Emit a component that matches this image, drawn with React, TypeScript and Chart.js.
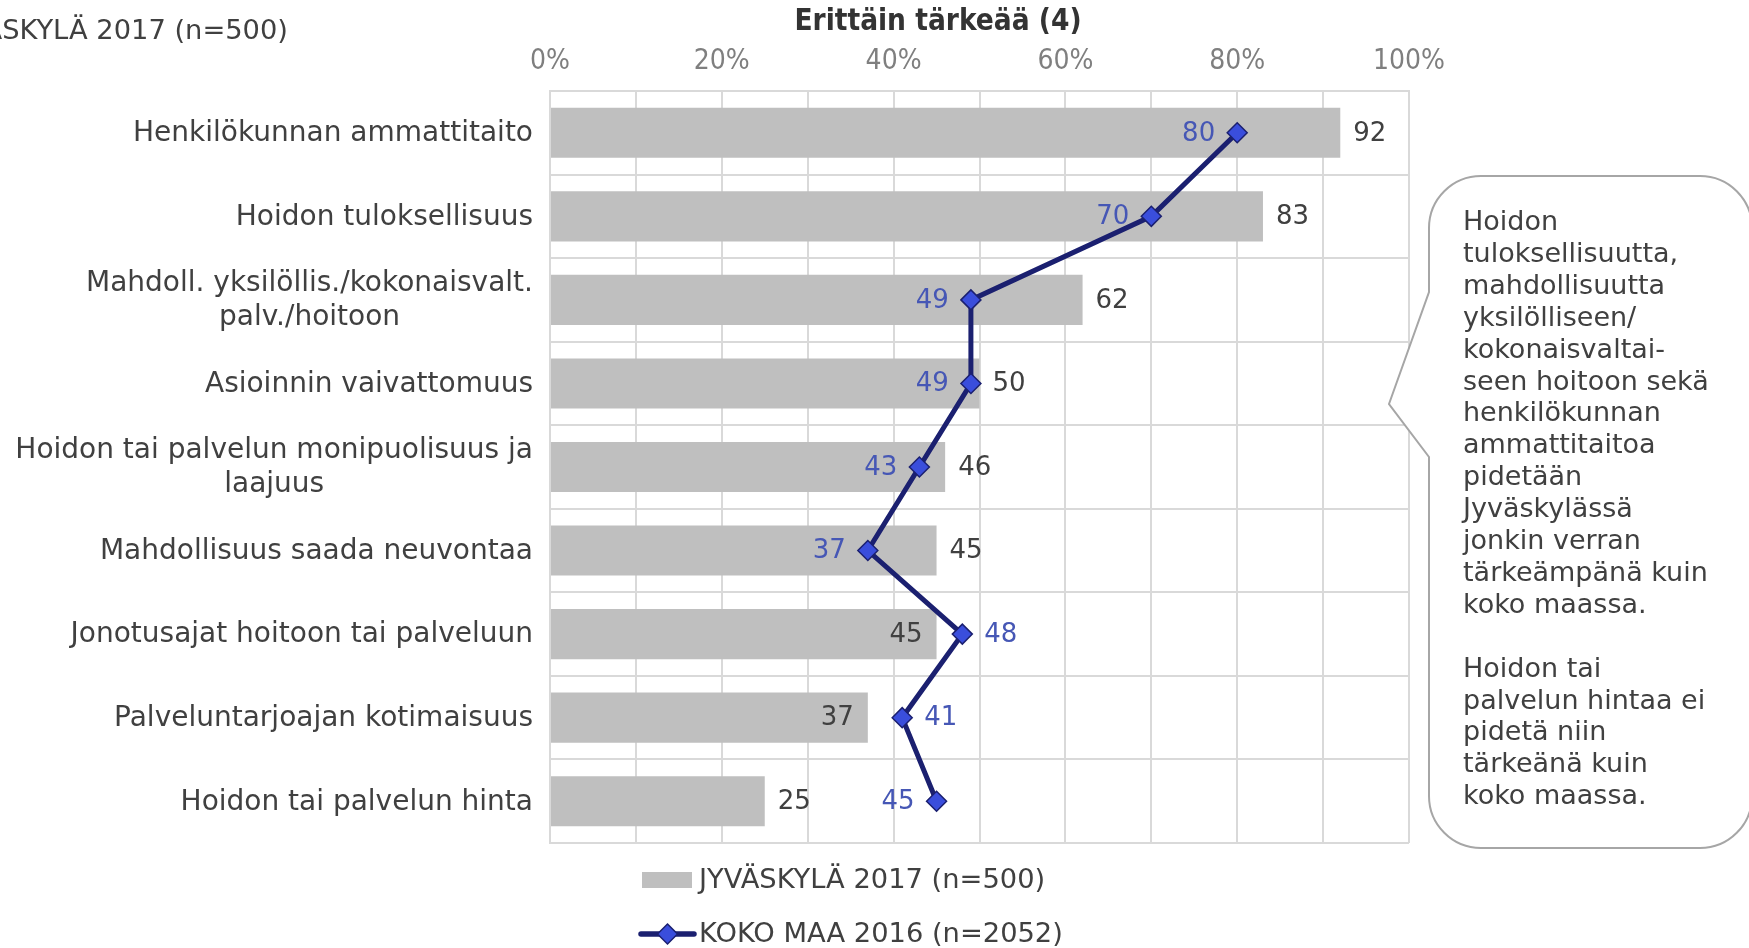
import React, { useEffect, useRef } from 'react';
import { Chart, registerables } from 'chart.js';

Chart.register(...registerables);

const categories: string[][] = [
  ['Henkilökunnan ammattitaito'],
  ['Hoidon tuloksellisuus'],
  ['Mahdoll. yksilöllis./kokonaisvalt.', 'palv./hoitoon'],
  ['Asioinnin vaivattomuus'],
  ['Hoidon tai palvelun monipuolisuus ja', 'laajuus'],
  ['Mahdollisuus saada neuvontaa'],
  ['Jonotusajat hoitoon tai palveluun'],
  ['Palveluntarjoajan kotimaisuus'],
  ['Hoidon tai palvelun hinta'],
];

const jyvaskyla2017 = [92, 83, 62, 50, 46, 45, 45, 37, 25];
const kokoMaa2016 = [80, 70, 49, 49, 43, 37, 48, 41, 45];

const barLabelPlacement = ['out', 'out', 'out', 'out', 'out', 'out', 'in', 'in', 'out'];
const lineLabelPlacement = ['left', 'left', 'left', 'left', 'left', 'left', 'right', 'right', 'left'];

const seriesNames = ['JYVÄSKYLÄ 2017 (n=500)', 'KOKO MAA 2016 (n=2052)'];
const axisTitle = 'Erittäin tärkeää (4)';
const calloutLines = [
  'Hoidon',
  'tuloksellisuutta,',
  'mahdollisuutta',
  'yksilölliseen/',
  'kokonaisvaltai-',
  'seen hoitoon sekä',
  'henkilökunnan',
  'ammattitaitoa',
  'pidetään',
  'Jyväskylässä',
  'jonkin verran',
  'tärkeämpänä kuin',
  'koko maassa.',
  '',
  'Hoidon tai',
  'palvelun hintaa ei',
  'pidetä niin',
  'tärkeänä kuin',
  'koko maassa.',
];

const FONT = "'DejaVu Sans', Verdana, sans-serif";
const COND = "'DejaVu Sans Condensed', 'DejaVu Sans', sans-serif";
const FS_LABEL = 28;
const FS_LEGEND = 27.3;
const FS_DATA = 26;
const FS_CALLOUT = 27;
const TEXT = '#404040';
const BAR = '#BFBFBF';
const GRID = '#D9D9D9';
const NAVY = '#1B2070';
const MARKER = '#3A4EDC';
const LINE_LABEL = '#4657B5';

const overlayPlugin = {
  id: 'overlay',
  afterDatasetsDraw(chart: any) {
    const ctx = chart.ctx;
    const lineMeta = chart.getDatasetMeta(0);
    const barMeta = chart.getDatasetMeta(1);
    ctx.save();
    ctx.font = `${FS_DATA}px ${FONT}`;
    ctx.textBaseline = 'middle';
    barMeta.data.forEach((el: any, i: number) => {
      const { x, y } = el.getProps(['x', 'y'], true);
      ctx.fillStyle = TEXT;
      if (barLabelPlacement[i] === 'in') {
        ctx.textAlign = 'right';
        ctx.fillText(String(jyvaskyla2017[i]), x - 14, y + 1);
      } else {
        ctx.textAlign = 'left';
        ctx.fillText(String(jyvaskyla2017[i]), x + 13, y + 1);
      }
    });
    lineMeta.data.forEach((el: any, i: number) => {
      const { x, y } = el.getProps(['x', 'y'], true);
      ctx.fillStyle = LINE_LABEL;
      if (lineLabelPlacement[i] === 'right') {
        ctx.textAlign = 'left';
        ctx.fillText(String(kokoMaa2016[i]), x + 22, y + 1);
      } else {
        ctx.textAlign = 'right';
        ctx.fillText(String(kokoMaa2016[i]), x - 22, y + 1);
      }
    });
    ctx.restore();
  },
  afterDraw(chart: any) {
    const ctx = chart.ctx;
    const yScale = chart.scales.y;
    ctx.save();
    // category labels
    ctx.font = `${FS_LABEL}px ${FONT}`;
    ctx.fillStyle = TEXT;
    ctx.textBaseline = 'middle';
    ctx.textAlign = 'center';
    const rightEdge = chart.chartArea.left - 17;
    categories.forEach((lines, i) => {
      const cy = yScale.getPixelForValue(i);
      const maxW = Math.max(...lines.map((l) => ctx.measureText(l).width));
      const cx = rightEdge - maxW / 2;
      const lh = 34;
      const start = cy - ((lines.length - 1) * lh) / 2;
      lines.forEach((l, j) => ctx.fillText(l, cx, start + j * lh + 1));
    });

    // axis title
    ctx.font = `bold 29.5px ${COND}`;
    ctx.fillStyle = '#333333';
    ctx.textAlign = 'center';
    ctx.fillText(axisTitle, 938, 22);

    // cut-off chart title at top-left
    ctx.font = `${FS_LEGEND}px ${FONT}`;
    ctx.fillStyle = TEXT;
    ctx.textAlign = 'right';
    ctx.fillText(seriesNames[0], 288, 32);

    // callout
    const L = 1429, T = 176, B = 848, R = 1752, r = 52;
    const P1 = 292, P2 = 457, tipX = 1389, tipY = 404;
    ctx.beginPath();
    ctx.moveTo(L + r, T);
    ctx.lineTo(R - r, T);
    ctx.arcTo(R, T, R, T + r, r);
    ctx.lineTo(R, B - r);
    ctx.arcTo(R, B, R - r, B, r);
    ctx.lineTo(L + r, B);
    ctx.arcTo(L, B, L, B - r, r);
    ctx.lineTo(L, P2);
    ctx.lineTo(tipX, tipY);
    ctx.lineTo(L, P1);
    ctx.lineTo(L, T + r);
    ctx.arcTo(L, T, L + r, T, r);
    ctx.closePath();
    ctx.fillStyle = '#FFFFFF';
    ctx.fill();
    ctx.strokeStyle = '#A6A6A6';
    ctx.lineWidth = 2;
    ctx.stroke();

    ctx.font = `${FS_CALLOUT}px ${FONT}`;
    ctx.fillStyle = TEXT;
    ctx.textAlign = 'left';
    calloutLines.forEach((l, i) => {
      ctx.fillText(l, 1463, 223 + i * 31.9);
    });

    // legend
    ctx.font = `${FS_LEGEND}px ${FONT}`;
    ctx.fillStyle = BAR;
    ctx.fillRect(642, 872, 50, 16);
    ctx.fillStyle = TEXT;
    ctx.fillText(seriesNames[0], 699, 881);

    ctx.strokeStyle = NAVY;
    ctx.lineWidth = 5.5;
    ctx.lineCap = 'round';
    ctx.beginPath();
    ctx.moveTo(641, 934);
    ctx.lineTo(694, 934);
    ctx.stroke();
    ctx.beginPath();
    const dx = 667.5, dy = 934, dr = 10;
    ctx.moveTo(dx, dy - dr);
    ctx.lineTo(dx + dr, dy);
    ctx.lineTo(dx, dy + dr);
    ctx.lineTo(dx - dr, dy);
    ctx.closePath();
    ctx.fillStyle = MARKER;
    ctx.fill();
    ctx.lineWidth = 1.5;
    ctx.stroke();
    ctx.fillStyle = TEXT;
    ctx.fillText(seriesNames[1], 699, 935);
    ctx.restore();
  },
};

export default function App() {
  const canvasRef = useRef<HTMLCanvasElement | null>(null);

  useEffect(() => {
    const canvas = canvasRef.current;
    if (!canvas) return;
    const chart = new Chart(canvas, {
      type: 'bar',
      data: {
        labels: categories,
        datasets: [
          {
            type: 'line',
            label: seriesNames[1],
            data: kokoMaa2016,
            indexAxis: 'y',
            order: 0,
            borderColor: NAVY,
            borderWidth: 5,
            pointStyle: 'rectRot',
            pointRadius: 10,
            pointBackgroundColor: MARKER,
            pointBorderColor: NAVY,
            pointBorderWidth: 1.5,
            tension: 0,
            xAxisID: 'x',
            yAxisID: 'y',
          } as any,
          {
            type: 'bar',
            label: seriesNames[0],
            data: jyvaskyla2017,
            order: 1,
            backgroundColor: BAR,
            borderWidth: 0,
            categoryPercentage: 0.6,
            barPercentage: 1,
            xAxisID: 'x',
            yAxisID: 'y',
          },
        ],
      },
      options: {
        indexAxis: 'y',
        responsive: false,
        animation: false,
        events: [],
        layout: { padding: { left: 0, right: 340, top: 0, bottom: 105 } },
        plugins: {
          legend: { display: false },
          tooltip: { enabled: false },
          title: { display: false },
        },
        scales: {
          x: {
            type: 'linear',
            position: 'top',
            min: 0,
            max: 100,
            afterFit: (s: any) => {
              s.height = 91;
            },
            ticks: {
              stepSize: 10,
              autoSkip: false,
              maxRotation: 0,
              padding: 12,
              color: '#7F7F7F',
              font: { family: COND, size: 28 },
              callback: (v: any) => (Number(v) % 20 === 0 ? `${v}%` : ''),
            },
            grid: { color: GRID, lineWidth: 2, drawTicks: false },
            border: { display: true, color: GRID, width: 2 },
          },
          y: {
            type: 'category',
            position: 'left',
            offset: true,
            afterFit: (s: any) => {
              s.width = 550;
            },
            ticks: { display: false },
            grid: { color: GRID, lineWidth: 2, drawTicks: false, offset: true },
            border: { display: true, color: GRID, width: 2 },
          },
        },
      } as any,
      plugins: [overlayPlugin],
    });
    return () => chart.destroy();
  }, []);

  return (
    <div style={{ position: 'fixed', left: 0, top: 0, width: 1749, height: 948, background: '#FFFFFF' }}>
      <canvas ref={canvasRef} width={1749} height={948} />
    </div>
  );
}
